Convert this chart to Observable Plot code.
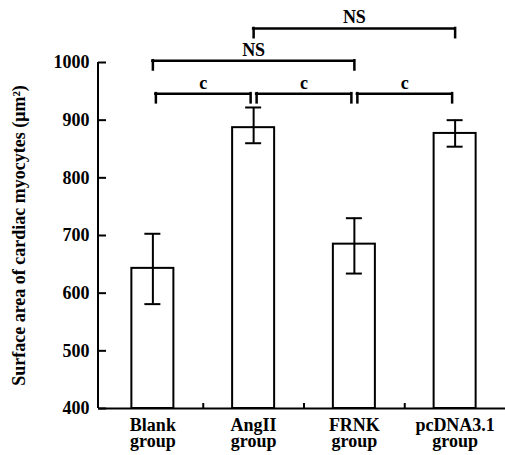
<!DOCTYPE html>
<html>
<head>
<meta charset="utf-8">
<script src="https://cdn.jsdelivr.net/npm/d3@7"></script>
<script src="https://cdn.jsdelivr.net/npm/@observablehq/plot@0.6"></script>
<style>
  html, body { margin: 0; padding: 0; background: #fff; }
  svg { display: block; }
</style>
</head>
<body>
<div id="chart"></div>
<script>
// ---- data ----
const categories = ["Blank", "AngII", "FRNK", "pcDNA3.1"];
const tickLabels = ["Blank\ngroup", "AngII\ngroup", "FRNK\ngroup", "pcDNA3.1\ngroup"];
const means = [643, 887, 685, 877];
const errLow = [581, 860, 634, 854];
const errHigh = [703, 922, 730, 900];
const yTicks = [400, 500, 600, 700, 800, 900, 1000];
const yLabel = "Surface area of cardiac myocytes (\u03bcm\u00b2)";
const bracketFrom = ["Blank", "AngII", "FRNK", "Blank", "AngII"];
const bracketTo = ["AngII", "FRNK", "pcDNA3.1", "FRNK", "pcDNA3.1"];
const bracketLevel = [946, 946, 946, 1003, 1059];
const bracketLabel = ["c", "c", "c", "NS", "NS"];

// ---- layout / style ----
const W = 505, H = 455;
const mL = 98, mR = 0, mT = 62, mB = 47;
const xInset = 4;
const padInner = 0.583;
const step = (W - mL - mR - xInset) / categories.length;
const bw = step * (1 - padInner);
const capHalf = 8;
const drop = 16;        // bracket end length in data units
const font = "'Liberation Serif', 'DejaVu Serif', serif";
const fs = 18;

const data = categories.map((c, i) => ({cat: c, mean: means[i], lo: errLow[i], hi: errHigh[i]}));
const brackets = bracketFrom.map((f, i) => ({from: f, to: bracketTo[i], level: bracketLevel[i], label: bracketLabel[i]}));
const tickLabelOf = new Map(categories.map((c, i) => [c, tickLabels[i]]));

const bracketMarks = brackets.flatMap(b => {
  const gap = b.label === "c" ? 3 : 0;
  const span = categories.indexOf(b.to) - categories.indexOf(b.from);
  const common = {stroke: "black", strokeWidth: 2.5, strokeLinecap: "square"};
  return [
    Plot.ruleY([b], {x1: "from", x2: "to", y: "level", insetLeft: bw / 2 + gap, insetRight: bw / 2 + gap, ...common}),
    Plot.ruleX([b], {x: "from", y1: "level", y2: d => d.level - drop, dx: gap, ...common}),
    Plot.ruleX([b], {x: "to", y1: "level", y2: d => d.level - drop, dx: -gap, ...common}),
    Plot.text([b], {x: "from", y: "level", text: "label", dx: span * step / 2, dy: -5,
      lineAnchor: "bottom", textAnchor: "middle", fontWeight: "bold", fontSize: fs})
  ];
});

const yAxisLine = (index, scales, values, dimensions) => {
  const g = d3.create("svg:line")
    .attr("x1", dimensions.marginLeft).attr("x2", dimensions.marginLeft)
    .attr("y1", scales.y(yTicks[0])).attr("y2", scales.y(yTicks[yTicks.length - 1]))
    .attr("stroke", "black").attr("stroke-width", 2);
  return g.node();
};

const plotH = H - mT - mB;
const plotW = W - mL - mR;

const chart = Plot.plot({
  width: W,
  height: H,
  marginLeft: mL,
  marginRight: mR,
  marginTop: mT,
  marginBottom: mB,
  style: {fontFamily: font, fontSize: fs + "px", fontWeight: "bold", background: "#fff", color: "black", overflow: "visible"},
  x: {domain: categories, paddingInner: padInner, paddingOuter: padInner / 2, insetLeft: xInset, round: false, label: null},
  y: {domain: [yTicks[0], yTicks[yTicks.length - 1]], label: null},
  marks: [
    Plot.barY(data, {x: "cat", y1: yTicks[0], y2: "mean", fill: "white", stroke: "black", strokeWidth: 2}),
    Plot.ruleX(data, {x: "cat", y1: "lo", y2: "hi", stroke: "black", strokeWidth: 2}),
    Plot.tickY(data, {x: "cat", y: "lo", insetLeft: bw / 2 - capHalf, insetRight: bw / 2 - capHalf, stroke: "black", strokeWidth: 2}),
    Plot.tickY(data, {x: "cat", y: "hi", insetLeft: bw / 2 - capHalf, insetRight: bw / 2 - capHalf, stroke: "black", strokeWidth: 2}),
    Plot.ruleY([yTicks[0]], {stroke: "black", strokeWidth: 2}),
    yAxisLine,
    Plot.tickY(yTicks, {y: d => d, insetRight: plotW - 8, stroke: "black", strokeWidth: 2}),
    Plot.ruleX(categories.slice(0, -1), {x: d => d, dx: step / 2, insetTop: plotH - 5, stroke: "black", strokeWidth: 2}),
    Plot.axisY(yTicks, {tickSize: 0, tickPadding: 9, fontSize: fs, fontWeight: "bold", label: null, tickFormat: d => String(d)}),
    Plot.axisX({tickSize: 0, tickPadding: 11, fontSize: fs, fontWeight: "bold", lineHeight: 0.9, label: null, tickFormat: d => tickLabelOf.get(d)}),
    Plot.text([yLabel], {frameAnchor: "left", rotate: -90, dx: -79, text: d => d, textAnchor: "middle", lineAnchor: "middle", fontSize: fs, fontWeight: "bold"}),
    ...bracketMarks
  ]
});

document.getElementById("chart").appendChild(chart);
</script>
</body>
</html>
